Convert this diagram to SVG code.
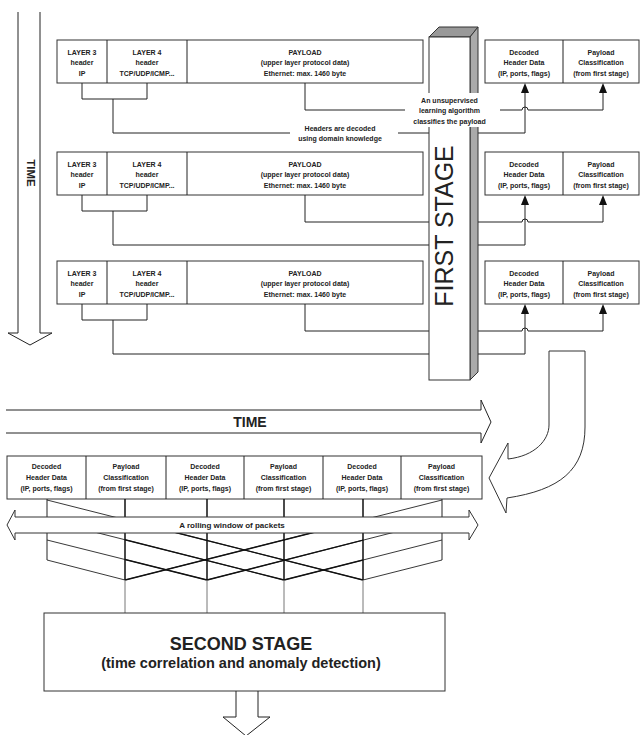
<svg xmlns="http://www.w3.org/2000/svg" width="640" height="735" viewBox="0 0 640 735">
<defs>
<style>
.bx{fill:#fff;stroke:#333;stroke-width:1}
.ln{fill:none;stroke:#222;stroke-width:1}
.t7{font-family:"Liberation Sans",Arial,sans-serif;font-weight:bold;font-size:7px;fill:#222;text-anchor:middle}
.t8{font-family:"Liberation Sans",Arial,sans-serif;font-weight:bold;font-size:8px;fill:#222;text-anchor:middle}
.big{font-family:"Liberation Sans",Arial,sans-serif;font-weight:bold;fill:#222;text-anchor:middle}
.ah{fill:#111;stroke:none}
.mesh{fill:none;stroke:#222;stroke-width:0.9}
.meshb{fill:none;stroke:#111;stroke-width:1.35}
.vt{fill:none;stroke:#111;stroke-width:1.5}
.vg{fill:none;stroke:#777;stroke-width:1}
</style>
<clipPath id="inner"><rect x="125" y="495" width="238" height="90"/></clipPath>
<g id="pkt">
<rect class="bx" x="57" y="40" width="366" height="43"/>
<line class="ln" x1="107" y1="40" x2="107" y2="83"/>
<line class="ln" x1="187" y1="40" x2="187" y2="83"/>
<text class="t7" x="82" y="54.5">LAYER 3</text>
<text class="t7" x="82" y="65">header</text>
<text class="t7" x="82" y="75.5">IP</text>
<text class="t7" x="147" y="54.5">LAYER 4</text>
<text class="t7" x="147" y="65">header</text>
<text class="t7" x="147" y="75.5">TCP/UDP/ICMP...</text>
<text class="t7" x="305" y="54.5">PAYLOAD</text>
<text class="t7" x="305" y="65">(upper layer protocol data)</text>
<text class="t7" x="305" y="75.5">Ethernet: max. 1460 byte</text>
<path class="ln" d="M82,83 V99 H147 V83"/>
</g>
<g id="dec">
<rect class="bx" x="485" y="40" width="154" height="43"/>
<line class="ln" x1="563" y1="40" x2="563" y2="83"/>
<text class="t7" x="524" y="54.5">Decoded</text>
<text class="t7" x="524" y="65">Header Data</text>
<text class="t7" x="524" y="75.5">(IP, ports, flags)</text>
<text class="t7" x="601" y="54.5">Payload</text>
<text class="t7" x="601" y="65">Classification</text>
<text class="t7" x="601" y="75.5">(from first stage)</text>
<polygon class="ah" points="525,83 521,93 529,93"/>
<polygon class="ah" points="603,83 599,93 607,93"/>
</g>
</defs>

<!-- vertical TIME arrow -->
<g id="time-v">
<path class="ln" d="M18,12 V333 H8 L30,345 L52,333 H40 V12"/>
<text class="big" font-size="11.5" transform="translate(27,173) rotate(90)">TIME</text>
</g>

<!-- packet rows -->
<g id="row1">
<use href="#pkt"/>
<use href="#dec"/>
</g>
<g id="row2" transform="translate(0,112)">
<use href="#pkt"/>
<use href="#dec"/>
</g>
<g id="row3" transform="translate(0,221)">
<use href="#pkt"/>
<use href="#dec"/>
</g>

<g id="connectors-top">
<path class="ln" d="M113,99 V133 H290"/>
<path class="ln" d="M398,133 H429"/>
<path class="ln" d="M478,133 H525 V93"/>
<path class="ln" d="M305,83 V110 H407"/>
<path class="ln" d="M500,110 H522 A3,3 0 0 1 528,110 H603 V93"/>
<path class="ln" d="M113,211 V245 H429"/>
<path class="ln" d="M478,245 H525 V205"/>
<path class="ln" d="M305,195 V222 H429"/>
<path class="ln" d="M478,222 H522 A3,3 0 0 1 528,222 H603 V205"/>
<path class="ln" d="M113,320 V354 H429"/>
<path class="ln" d="M478,354 H525 V314"/>
<path class="ln" d="M305,304 V331 H429"/>
<path class="ln" d="M478,331 H522 A3,3 0 0 1 528,331 H603 V314"/>
</g>

<!-- first stage column -->
<g id="first-stage">
<polygon points="429,37 439,27 478,27 470,37" fill="#999" stroke="#333" stroke-width="1"/>
<polygon points="470,37 478,27 478,372 470,380" fill="#aaa" stroke="#333" stroke-width="1"/>
<rect class="bx" x="429" y="37" width="41" height="343"/>
<text font-family="Liberation Sans,Arial,sans-serif" font-size="25" fill="#222" text-anchor="middle" transform="translate(453,226) rotate(-90)">FIRST STAGE</text>
</g>

<g id="labels-top">
<rect x="405" y="93" width="93" height="34" fill="#fff"/>
<text class="t7" x="449.5" y="102.5">An unsupervised</text>
<text class="t7" x="449.5" y="113">learning algorithm</text>
<text class="t7" x="449.5" y="123.5">classifies the payload</text>
<text class="t7" x="340" y="130.5">Headers are decoded</text>
<text class="t7" x="340" y="140.5">using domain knowledge</text>
</g>

<!-- curved arrow -->
<g id="curved-arrow">
<path class="bx" d="M549,351 L585,351 L585,427 C585,470 560,490 507,498 L506,513 L489,478 L508,443 L508,459 C535,456 549,440 549,425 Z"/>
</g>

<!-- horizontal TIME arrow -->
<g id="time-h">
<path class="ln" d="M6,410 H481 V400 L491,422 L481,443 V433 H6"/>
<text class="big" font-size="14" x="250" y="427">TIME</text>
</g>

<!-- bottom row of decoded data -->
<g id="window-row">
<rect class="bx" x="7" y="456" width="475" height="43"/>
<line class="ln" x1="86" y1="456" x2="86" y2="499"/>
<line class="ln" x1="166" y1="456" x2="166" y2="499"/>
<line class="ln" x1="244" y1="456" x2="244" y2="499"/>
<line class="ln" x1="323" y1="456" x2="323" y2="499"/>
<line class="ln" x1="401" y1="456" x2="401" y2="499"/>
<g class="t7">
<text x="46.5" y="468.5">Decoded</text><text x="46.5" y="479.5">Header Data</text><text x="46.5" y="490.5">(IP, ports, flags)</text>
<text x="126" y="468.5">Payload</text><text x="126" y="479.5">Classification</text><text x="126" y="490.5">(from first stage)</text>
<text x="205" y="468.5">Decoded</text><text x="205" y="479.5">Header Data</text><text x="205" y="490.5">(IP, ports, flags)</text>
<text x="283.5" y="468.5">Payload</text><text x="283.5" y="479.5">Classification</text><text x="283.5" y="490.5">(from first stage)</text>
<text x="362" y="468.5">Decoded</text><text x="362" y="479.5">Header Data</text><text x="362" y="490.5">(IP, ports, flags)</text>
<text x="441.5" y="468.5">Payload</text><text x="441.5" y="479.5">Classification</text><text x="441.5" y="490.5">(from first stage)</text>
</g>
</g>

<!-- mesh connectors -->
<g id="mesh">
<path class="ln" d="M47,499 V560"/>
<path class="ln" d="M442,499 V560"/>
<path class="mesh" d="M47,500 L363,580 M47,520 L284,580 M47,540 L207,580 M47,560 L125,580"/>
<path class="mesh" d="M442,500 L125,580 M442,520 L207,580 M442,540 L284,580 M442,560 L363,580"/>
<g clip-path="url(#inner)">
<path class="meshb" d="M47,500 L363,580 M47,520 L284,580 M47,540 L207,580"/>
<path class="meshb" d="M442,500 L125,580 M442,520 L207,580 M442,540 L284,580"/>
</g>
<path class="vt" d="M125,499 V580 M207,499 V580 M284,499 V580 M363,499 V580"/>
<path class="vg" d="M125,580 V613 M207,580 V613 M284,580 V613 M363,580 V613"/>
</g>

<!-- rolling window arrow -->
<g id="rolling">
<polygon class="bx" points="15,517 469,517 469,510 478,525 469,540 469,533 15,533 15,540 7,525 15,510"/>
<text class="t8" x="232" y="528">A rolling window of packets</text>
</g>

<!-- second stage -->
<g id="second-stage">
<rect class="bx" x="44" y="613" width="401" height="78"/>
<text class="big" font-size="18" x="241" y="650">SECOND STAGE</text>
<text class="big" font-size="14.5" x="241" y="668">(time correlation and anomaly detection)</text>
<path class="ln" d="M236,691 V717 H223 L246,736 L270,717 H258 V691"/>
</g>
</svg>
